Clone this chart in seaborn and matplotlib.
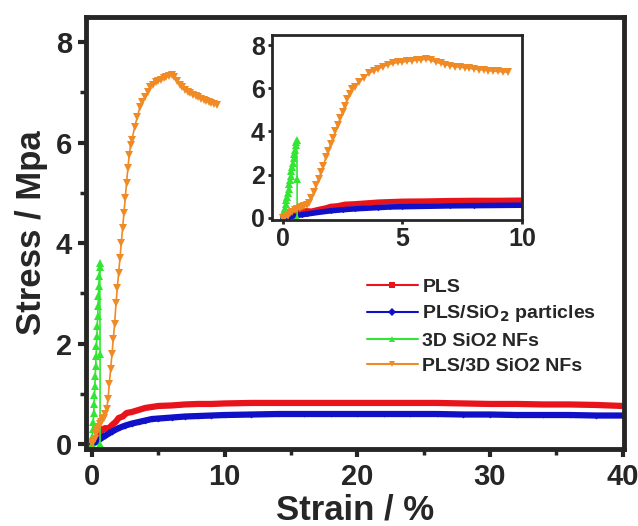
import matplotlib
matplotlib.use("Agg")
import matplotlib.pyplot as plt
import seaborn as sns
import numpy as np
from matplotlib.lines import Line2D
from matplotlib.ticker import AutoMinorLocator, MultipleLocator

# ---------------- data ----------------
pls_x = [0, 0.3, 0.6, 0.8, 1.0, 1.2, 1.5, 1.8, 2.0, 2.3, 2.6, 3.0, 3.5, 4.0, 4.5, 5.0,
         6, 7, 8, 9, 10, 12, 14, 16, 18, 20, 22, 24, 26, 28, 30, 32, 34, 36, 38, 40]
pls_y = [0, 0.1, 0.2, 0.3, 0.32, 0.3, 0.38, 0.45, 0.52, 0.55, 0.62, 0.64, 0.68, 0.72, 0.74, 0.76,
         0.77, 0.79, 0.8, 0.8, 0.81, 0.82, 0.82, 0.82, 0.82, 0.82, 0.82, 0.82, 0.82, 0.81, 0.80,
         0.80, 0.79, 0.79, 0.78, 0.76]

sip_x = [0, 0.3, 0.6, 0.8, 1.0, 1.5, 2.0, 2.5, 3.0, 3.5, 4.0, 4.5, 5, 6, 7, 8, 9, 10,
         12, 14, 16, 18, 20, 22, 24, 26, 28, 30, 32, 34, 36, 38, 40]
sip_y = [0, 0.05, 0.1, 0.14, 0.17, 0.25, 0.32, 0.37, 0.41, 0.44, 0.47, 0.5, 0.51, 0.53, 0.55,
         0.56, 0.57, 0.58, 0.59, 0.6, 0.6, 0.6, 0.6, 0.6, 0.6, 0.6, 0.59, 0.59, 0.58, 0.58,
         0.58, 0.57, 0.57]

nf_x = [0, 0.03, 0.06, 0.09, 0.12, 0.15, 0.18, 0.21, 0.24, 0.27, 0.30, 0.33, 0.36, 0.39,
        0.42, 0.45, 0.48, 0.51, 0.54, 0.57, 0.58, 0.60, 0.60]
nf_y = [0, 0.15, 0.3, 0.45, 0.62, 0.8, 0.98, 1.15, 1.35, 1.55, 1.75, 1.95, 2.15, 2.35,
        2.55, 2.75, 2.95, 3.15, 3.35, 3.52, 3.6, 1.8, 0.0]

pnf_x = [0, 0.1, 0.2, 0.3, 0.4, 0.5, 0.6, 0.7, 0.8, 0.9, 1.0, 1.1, 1.2, 1.3, 1.4, 1.5, 1.6,
         1.7, 1.8, 1.9, 2.0, 2.1, 2.2, 2.3, 2.4, 2.5, 2.6, 2.7, 2.8, 2.9, 3.0, 3.2, 3.4, 3.6,
         3.8, 4.0, 4.2, 4.4, 4.6, 4.8, 5.0, 5.2, 5.4, 5.6, 5.8, 6.0, 6.2, 6.4, 6.6, 6.8, 7.0,
         7.2, 7.4, 7.6, 7.8, 8.0, 8.2, 8.4, 8.6, 8.8, 9.0, 9.2, 9.4]
pnf_y = [0, 0.05, 0.1, 0.2, 0.28, 0.35, 0.4, 0.45, 0.5, 0.52, 0.6, 0.7, 0.9, 1.2, 1.5, 1.8,
         2.1, 2.4, 2.8, 3.1, 3.4, 3.7, 4.0, 4.3, 4.6, 4.9, 5.2, 5.5, 5.75, 5.95, 6.05, 6.3,
         6.5, 6.7, 6.8, 6.9, 7.0, 7.1, 7.15, 7.2, 7.22, 7.25, 7.28, 7.3, 7.33, 7.35, 7.3,
         7.22, 7.15, 7.1, 7.05, 7.0, 6.98, 6.95, 6.93, 6.9, 6.87, 6.85, 6.82, 6.8, 6.78,
         6.77, 6.75]

labels = ["PLS", "PLS/SiO$_2$ particles", "3D SiO2 NFs", "PLS/3D SiO2 NFs"]
colors = ["#e8141c", "#1010c8", "#33e633", "#f08a24"]

# ---------------- style ----------------
sns.set_style("ticks")
plt.rcParams["font.family"] = ["Liberation Sans", "DejaVu Sans"]
plt.rcParams["font.weight"] = "bold"
plt.rcParams["axes.labelweight"] = "bold"
plt.rcParams["mathtext.default"] = "bf"

fig = plt.figure(figsize=(6.38, 5.26), dpi=100)
ax = fig.add_axes([0.135, 0.146, 0.843, 0.822])
axin = fig.add_axes([0.426, 0.582, 0.392, 0.351])


def draw(a, lw_rb=4.5, ms_scale=1.0):
    sns.lineplot(x=pls_x, y=pls_y, ax=a, sort=False, estimator=None, color=colors[0],
                 linewidth=lw_rb, marker="s", markersize=3 * ms_scale,
                 markeredgewidth=0)
    sns.lineplot(x=sip_x, y=sip_y, ax=a, sort=False, estimator=None, color=colors[1],
                 linewidth=lw_rb, marker="D", markersize=3 * ms_scale,
                 markeredgewidth=0)
    sns.lineplot(x=nf_x, y=nf_y, ax=a, sort=False, estimator=None, color=colors[2],
                 linewidth=1.2, marker="^", markersize=6 * ms_scale,
                 markeredgewidth=0)
    sns.lineplot(x=pnf_x, y=pnf_y, ax=a, sort=False, estimator=None, color=colors[3],
                 linewidth=1.2, marker="v", markersize=6 * ms_scale,
                 markeredgewidth=0)


draw(ax)
ax.set_xlim(-0.45, 40.1)
ax.set_ylim(-0.1, 8.5)
ax.xaxis.set_major_locator(MultipleLocator(10))
ax.yaxis.set_major_locator(MultipleLocator(2))
ax.xaxis.set_minor_locator(AutoMinorLocator(2))
ax.yaxis.set_minor_locator(AutoMinorLocator(2))
ax.tick_params(which="major", direction="out", length=6, width=3, labelsize=21, pad=4)
ax.tick_params(which="minor", direction="out", length=4, width=2.5)
for t in ax.get_xticklabels() + ax.get_yticklabels():
    t.set_fontweight("bold")
for s in ax.spines.values():
    s.set_linewidth(3.5)
    s.set_visible(True)
ax.set_xlabel("Strain / %", fontsize=25, fontweight="bold", labelpad=2)
ax.set_ylabel("Stress / Mpa", fontsize=25, fontweight="bold", labelpad=6)

draw(axin, lw_rb=4.0, ms_scale=0.9)
axin.set_xlim(-0.46, 10)
axin.set_ylim(-0.1, 8.46)
axin.xaxis.set_major_locator(MultipleLocator(5))
axin.yaxis.set_major_locator(MultipleLocator(2))
axin.tick_params(which="major", direction="out", length=3, width=2, labelsize=18, pad=2)
for t in axin.get_xticklabels() + axin.get_yticklabels():
    t.set_fontweight("bold")
for s in axin.spines.values():
    s.set_linewidth(2)
    s.set_visible(True)
axin.set_xlabel("")
axin.set_ylabel("")

handles = [
    Line2D([], [], color=colors[0], lw=1.5, marker="s", ms=4, mew=0),
    Line2D([], [], color=colors[1], lw=1.5, marker="D", ms=4, mew=0),
    Line2D([], [], color=colors[2], lw=1.5, marker="^", ms=5, mew=0),
    Line2D([], [], color=colors[3], lw=1.5, marker="v", ms=5, mew=0),
]
leg = fig.legend(handles, labels, loc="upper left", bbox_to_anchor=(367 / 638, 1 - 278 / 526),
                 frameon=False, fontsize=14, handlelength=2.6, handletextpad=0.25,
                 labelspacing=0.4, numpoints=1, borderaxespad=0, borderpad=0)
for t in leg.get_texts():
    t.set_fontweight("bold")

fig.savefig("out.png", dpi=100)
